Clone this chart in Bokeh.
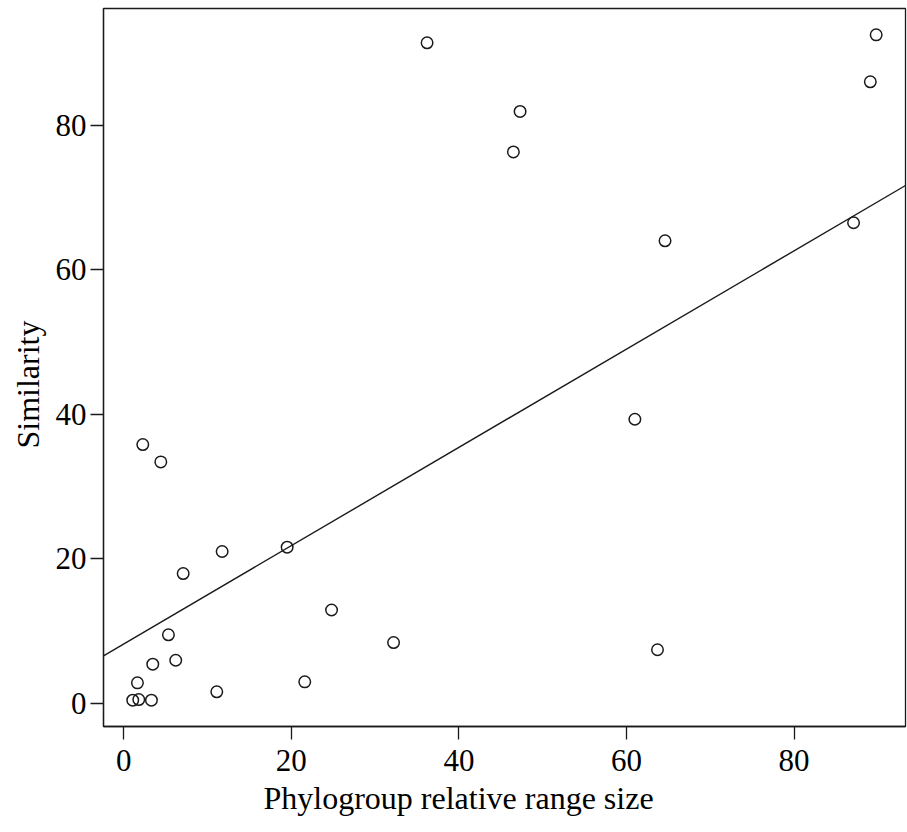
import numpy as np
from bokeh.plotting import figure
from bokeh.models import FixedTicker, Title, ColumnDataSource, Range1d
from bokeh.embed import file_html
from bokeh.resources import INLINE

# Data
range_size = [1.07, 1.79, 3.3, 1.63, 3.46, 6.2, 5.33, 7.09, 11.74, 2.27, 4.42,
              11.1, 19.5, 21.6, 24.8, 32.2, 36.2, 46.5, 47.3, 61.0, 63.7, 64.6,
              87.1, 89.1, 89.8]
similarity = [0.42, 0.51, 0.42, 2.82, 5.4, 5.95, 9.47, 17.95, 21.0, 35.8, 33.4,
              1.58, 21.6, 2.96, 12.9, 8.4, 91.4, 76.3, 81.9, 39.3, 7.4, 64.0,
              66.5, 86.0, 92.5]
fit_intercept = 8.21
fit_slope = 0.680
x_ticks = [0, 20, 40, 60, 80]
y_ticks = [0, 20, 40, 60, 80]
x_label = "Phylogroup relative range size"
y_label = "Similarity"

FONT = "Liberation Serif"
INK = "#1a1a1a"

x_lo, x_hi = -2.42, 93.3
y_lo, y_hi = -3.22, 96.15

p = figure(width=907, height=832, output_backend="svg", toolbar_location=None,
           x_range=Range1d(x_lo, x_hi), y_range=Range1d(y_lo, y_hi),
           min_border_left=103, min_border_right=2, min_border_top=8,
           min_border_bottom=106, background_fill_color="white",
           border_fill_color="white")
p.grid.visible = False
p.outline_line_color = INK
p.outline_line_width = 1.3
p.outline_line_alpha = 1.0

for ax, ticks in ((p.xaxis, x_ticks), (p.yaxis, y_ticks)):
    ax.ticker = FixedTicker(ticks=ticks)
    ax.major_tick_out = 13
    ax.major_tick_in = 0
    ax.minor_tick_line_color = None
    ax.major_tick_line_color = INK
    ax.major_tick_line_width = 1.3
    ax.axis_line_color = INK
    ax.axis_line_width = 1.3
    ax.major_label_text_font = FONT
    ax.major_label_text_font_size = "31px"
    ax.major_label_text_color = "black"
p.xaxis.major_label_standoff = 10
p.yaxis.major_label_standoff = 4

# regression line across the full x range
lx = np.array([x_lo, x_hi])
ly = fit_intercept + fit_slope * lx
p.line(lx, ly, line_color=INK, line_width=1.4)

src = ColumnDataSource(dict(x=range_size, y=similarity))
p.scatter("x", "y", source=src, marker="circle", size=11.5, fill_color=None,
          line_color=INK, line_width=1.5)

p.add_layout(Title(text=x_label, align="left", offset=160, standoff=8,
                   text_font=FONT, text_font_size="32px",
                   text_font_style="normal", text_color="black"), "below")
p.add_layout(Title(text=y_label, align="left", offset=278, standoff=13,
                   text_font=FONT, text_font_size="32px",
                   text_font_style="normal", text_color="black"), "left")

open("out.html", "w").write(file_html(p, INLINE))
